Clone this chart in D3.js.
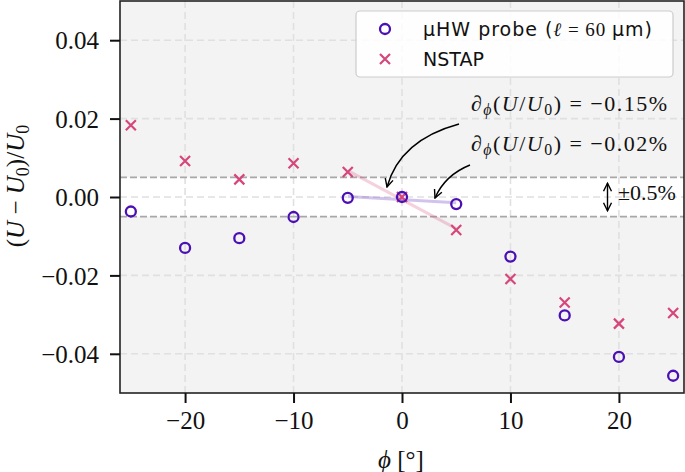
<!DOCTYPE html>
<html><head><meta charset="utf-8">
<script src="https://d3js.org/d3.v7.min.js"></script>
<style>body{margin:0;background:#fff}svg{display:block}</style>
</head><body>
<svg id="c" width="685" height="472"></svg>
<script>
const phi = [-25,-20,-15,-10,-5,0,5,10,15,20,25];
const uhw = [-0.0037,-0.0130,-0.0105,-0.0051,-0.0002,0.0,-0.0018,-0.0152,-0.0302,-0.0408,-0.0456];
const nstap = [0.0183,0.0092,0.0045,0.0086,0.0064,0.0,-0.0084,-0.0209,-0.0269,-0.0323,-0.0296];
const xTicks = [-20,-10,0,10,20];
const yTicks = [-0.04,-0.02,0.00,0.02,0.04];
const band = [-0.005, 0.005];
const cPurple = "#4a10b3", cPink = "#d6467b";

const svg = d3.select("#c");
const L=120,R=684,T=1,B=393;
const x = d3.scaleLinear().domain([-26,26]).range([L,R]);
const y = d3.scaleLinear().domain([-0.05,0.05]).range([B,T]);
const serif = "Liberation Serif, Times New Roman, DejaVu Serif, serif";
const sans = "DejaVu Sans, sans-serif";

svg.append("rect").attr("x",L).attr("y",T).attr("width",R-L).attr("height",B-T).attr("fill","#f3f3f3");
svg.append("rect").attr("x",L).attr("y",y(band[1])).attr("width",R-L).attr("height",y(band[0])-y(band[1])).attr("fill","#fff");

const g = svg.append("g");
g.selectAll(".gx").data(xTicks).join("line").attr("x1",d=>x(d)).attr("x2",d=>x(d)).attr("y1",T).attr("y2",B)
 .attr("stroke","#e0e0e0").attr("stroke-width",1.6).attr("stroke-dasharray","7,4");
g.selectAll(".gy").data(yTicks).join("line").attr("y1",d=>y(d)).attr("y2",d=>y(d)).attr("x1",L).attr("x2",R)
 .attr("stroke","#e0e0e0").attr("stroke-width",1.6).attr("stroke-dasharray","7,4");
g.selectAll(".bl").data(band).join("line").attr("y1",d=>y(d)).attr("y2",d=>y(d)).attr("x1",L).attr("x2",R)
 .attr("stroke","#a8a8a8").attr("stroke-width",1.6).attr("stroke-dasharray","7,3");

function fit(vals){
  const pts = phi.map((p,i)=>[p,vals[i]]).filter(d=>Math.abs(d[0])<=5);
  const mx=d3.mean(pts,d=>d[0]), my=d3.mean(pts,d=>d[1]);
  const s=d3.sum(pts,d=>(d[0]-mx)*(d[1]-my))/d3.sum(pts,d=>(d[0]-mx)**2);
  return [[-5,my+s*(-5-mx)],[5,my+s*(5-mx)]];
}
const line = d3.line().x(d=>x(d[0])).y(d=>y(d[1]));
svg.append("path").attr("d",line(fit(nstap))).attr("stroke",cPink).attr("stroke-opacity",0.25).attr("stroke-width",3).attr("fill","none");
svg.append("path").attr("d",line(fit(uhw))).attr("stroke",cPurple).attr("stroke-opacity",0.25).attr("stroke-width",3).attr("fill","none");

const cs=5;
svg.selectAll(".cr").data(phi).join("path")
 .attr("d",(d,i)=>{const cx=x(d),cy=y(nstap[i]);return `M${cx-cs},${cy-cs}L${cx+cs},${cy+cs}M${cx-cs},${cy+cs}L${cx+cs},${cy-cs}`;})
 .attr("stroke",cPink).attr("stroke-width",2.2).attr("fill","none");
svg.selectAll(".ci").data(phi).join("circle").attr("cx",d=>x(d)).attr("cy",(d,i)=>y(uhw[i])).attr("r",5)
 .attr("fill","none").attr("stroke",cPurple).attr("stroke-width",2.3);

svg.append("rect").attr("x",L).attr("y",T).attr("width",R-L).attr("height",B-T).attr("fill","none").attr("stroke","#222").attr("stroke-width",1.6);

const xa = svg.append("g").attr("transform",`translate(0,${B})`).call(d3.axisBottom(x).tickValues(xTicks).tickSize(10).tickPadding(8).tickFormat(d3.format("d")));
const ya = svg.append("g").attr("transform",`translate(${L},0)`).call(d3.axisLeft(y).tickValues(yTicks).tickSize(10).tickPadding(11).tickFormat(d3.format(".2f")));
[xa,ya].forEach(a=>{a.attr("font-family",null).attr("font-size",null);
 a.select(".domain").remove();a.selectAll(".tick line").attr("stroke","#111").attr("stroke-width",2);
 a.selectAll("text").style("font-family",serif).style("font-size","25px").attr("fill","#111");});
xa.selectAll("text").text(d=>d<0?"\u2212"+Math.abs(d):d);
ya.selectAll("text").text(d=>(d<0?"\u2212":"")+Math.abs(d).toFixed(2)).attr("dy","0.35em");

function mtext(parent, parts, attrs, fs){
  const t=parent.append("text").style("font-family",serif).style("font-size",fs+"px").attr("fill","#111");
  Object.entries(attrs).forEach(([k,v])=>t.attr(k,v));
  parts.forEach(p=>{
    const s=t.append("tspan").text(p.t);
    if(p.i) s.style("font-style","italic");
    if(p.sub) s.attr("baseline-shift","-25%").style("font-size",(fs*0.72)+"px");
  });
  return t;
}
mtext(svg,[{t:"("},{t:"U",i:1},{t:" \u2212 "},{t:"U",i:1},{t:"0",sub:1},{t:")/"},{t:"U",i:1},{t:"0",sub:1}],
 {"text-anchor":"middle","transform":"translate(24,186) rotate(-90)"},25);
mtext(svg,[{t:"\u03d5",i:1},{t:" [\u00b0]"}],{"text-anchor":"middle","x":401,"y":468},25);

mtext(svg,[{t:"\u2202"},{t:"\u03d5",i:1,sub:1},{t:"("},{t:"U",i:1},{t:"/"},{t:"U",i:1},{t:"0",sub:1},{t:") = \u22120.15%"}],
 {"x":471,"y":111,"textLength":196,"lengthAdjust":"spacing"},22);
mtext(svg,[{t:"\u2202"},{t:"\u03d5",i:1,sub:1},{t:"("},{t:"U",i:1},{t:"/"},{t:"U",i:1},{t:"0",sub:1},{t:") = \u22120.02%"}],
 {"x":471,"y":151,"textLength":196,"lengthAdjust":"spacing"},22);
mtext(svg,[{t:"\u00b10.5%"}],{"x":618,"y":200},22);

const defs=svg.append("defs");
defs.append("marker").attr("id","ah").attr("viewBox","0 0 10 10").attr("refX",9).attr("refY",5)
 .attr("markerWidth",10).attr("markerHeight",10).attr("markerUnits","userSpaceOnUse").attr("orient","auto-start-reverse")
 .append("path").attr("d","M1,1L9,5L1,9").attr("fill","none").attr("stroke","#000").attr("stroke-width",1.4);
svg.append("path").attr("d","M459,124 Q400,140 387,187").attr("fill","none").attr("stroke","#000").attr("stroke-width",1.5).attr("marker-end","url(#ah)");
svg.append("path").attr("d","M470,165 Q445,175 435,198").attr("fill","none").attr("stroke","#000").attr("stroke-width",1.5).attr("marker-end","url(#ah)");
svg.append("path").attr("d",`M607.5,${y(0.0035)}L607.5,${y(-0.0035)}`).attr("stroke","#000").attr("stroke-width",1.4)
 .attr("marker-end","url(#ah)").attr("marker-start","url(#ah)");

const lg=svg.append("g");
lg.append("rect").attr("x",356).attr("y",11).attr("width",317).attr("height",66).attr("rx",4)
 .attr("fill","#fff").attr("fill-opacity",0.85).attr("stroke","#ccc").attr("stroke-width",1.2);
lg.append("circle").attr("cx",385).attr("cy",29).attr("r",5).attr("fill","none").attr("stroke",cPurple).attr("stroke-width",2.3);
lg.append("path").attr("d",`M${385-cs},${59-cs}L${385+cs},${59+cs}M${385-cs},${59+cs}L${385+cs},${59-cs}`).attr("stroke",cPink).attr("stroke-width",2.2);
const lt=lg.append("text").attr("x",423).attr("y",36).style("font-family",sans).style("font-size","19px").attr("fill","#111")
 .attr("textLength",229).attr("lengthAdjust","spacing");
lt.append("tspan").text("\u03bcHW probe (");
lt.append("tspan").text("\u2113").style("font-family",serif).style("font-style","italic");
lt.append("tspan").text(" = 60 ").style("font-family",serif);
lt.append("tspan").text("\u03bcm)");
lg.append("text").attr("x",423).attr("y",66).style("font-family",sans).style("font-size","19px").attr("fill","#111").text("NSTAP");
</script>
</body></html>
